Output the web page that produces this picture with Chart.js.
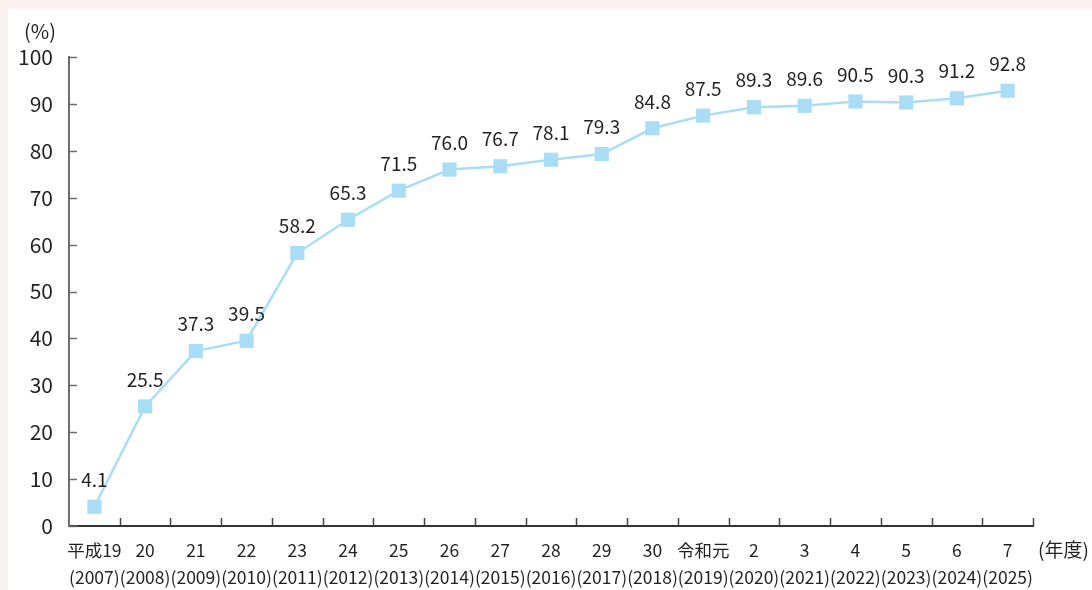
<!DOCTYPE html>
<html>
<head>
<meta charset="utf-8">
<script src="https://cdn.jsdelivr.net/npm/chart.js@4"></script>
<style>
  body { margin: 0; background: #fbf0f2; }
  #panel { position: absolute; left: 8px; top: 9px; width: 1084px; height: 581px; background: #fff; }
  canvas { display: block; }
</style>
</head>
<body>
<div id="panel"><canvas id="rateChart" width="1084" height="581"></canvas></div>
<script>
// Data
const eraLabels = ['平成19', '20', '21', '22', '23', '24', '25', '26', '27', '28', '29', '30', '令和元', '2', '3', '4', '5', '6', '7'];
const yearLabels = ['(2007)', '(2008)', '(2009)', '(2010)', '(2011)', '(2012)', '(2013)', '(2014)', '(2015)', '(2016)', '(2017)', '(2018)', '(2019)', '(2020)', '(2021)', '(2022)', '(2023)', '(2024)', '(2025)'];
const rates = [4.1, 25.5, 37.3, 39.5, 58.2, 65.3, 71.5, 76.0, 76.7, 78.1, 79.3, 84.8, 87.5, 89.3, 89.6, 90.5, 90.3, 91.2, 92.8];
const yTicks = [0, 10, 20, 30, 40, 50, 60, 70, 80, 90, 100];

const fontFamily = '"Noto Sans CJK JP", "Noto Sans", sans-serif';
const textColor = '#231f20';

// inward tick marks, value labels and unit texts
const decorPlugin = {
    id: 'decor',
    afterDraw(chart) {
        const ctx = chart.ctx;
        const area = chart.chartArea;
        const x = chart.scales.x;
        const y = chart.scales.y;
        ctx.save();

        // y ticks
        ctx.strokeStyle = '#6d6d6d';
        ctx.lineWidth = 1.5;
        yTicks.forEach(v => {
            const py = Math.round(y.getPixelForValue(v)) + 0.5;
            ctx.beginPath();
            ctx.moveTo(area.left, py);
            ctx.lineTo(area.left + 8, py);
            ctx.stroke();
        });

        // x ticks at category boundaries
        ctx.strokeStyle = '#444';
        for (let i = 0; i < eraLabels.length; i++) {
            const px = Math.round(x.getPixelForValue(i + 0.5)) + 0.5;
            ctx.beginPath();
            ctx.moveTo(px, area.bottom);
            ctx.lineTo(px, area.bottom - 8);
            ctx.stroke();
        }

        // value labels
        const meta = chart.getDatasetMeta(0);
        ctx.fillStyle = textColor;
        ctx.font = '19px ' + fontFamily;
        ctx.textAlign = 'center';
        ctx.textBaseline = 'middle';
        meta.data.forEach((pt, i) => {
            ctx.fillText(rates[i].toFixed(1), pt.x, pt.y - 27);
        });

        // units
        ctx.textAlign = 'left';
        ctx.font = '20px ' + fontFamily;
        ctx.fillText('(%)', 16, 22);
        ctx.font = '19px ' + fontFamily;
        ctx.fillText('(年度)', area.right + 5, 541);
        ctx.restore();
    }
};

const rateChart = new Chart(document.getElementById('rateChart').getContext('2d'), {
    type: 'line',
    data: {
        labels: eraLabels.map((e, i) => [e, yearLabels[i]]),
        datasets: [{
            data: rates,
            borderColor: '#a9ddf6',
            borderWidth: 2.5,
            pointStyle: 'rect',
            pointRadius: 10,
            pointBackgroundColor: '#a9ddf6',
            pointBorderWidth: 0,
            tension: 0
        }]
    },
    options: {
        responsive: false,
        animation: false,
        layout: { padding: { top: 48, right: 59, left: 0, bottom: 0 } },
        plugins: {
            legend: { display: false },
            tooltip: { enabled: false }
        },
        scales: {
            x: {
                offset: true,
                grid: { display: false, offset: true },
                border: { display: true, color: '#333', width: 2 },
                ticks: {
                    autoSkip: false,
                    maxRotation: 0,
                    padding: 3,
                    color: textColor,
                    font: { family: fontFamily, size: 17.5, lineHeight: '27px' }
                },
                afterFit(scale) { scale.height = 64; }
            },
            y: {
                min: 0,
                max: 100,
                grid: { display: false },
                border: { display: true, color: '#6d6d6d', width: 2 },
                ticks: {
                    stepSize: 10,
                    padding: 8,
                    color: textColor,
                    font: { family: fontFamily, size: 21 }
                },
                afterFit(scale) { scale.width = 61; }
            }
        }
    },
    plugins: [decorPlugin]
});
</script>
</body>
</html>
